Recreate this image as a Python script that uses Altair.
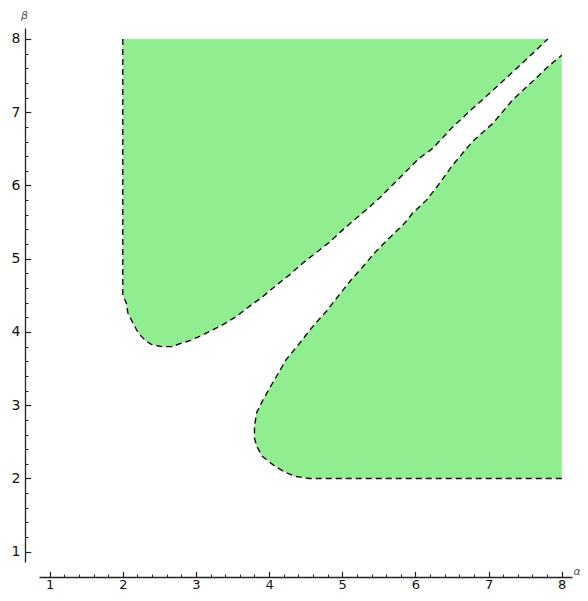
import altair as alt
import pandas as pd

# Upper-left region: lower boundary (alpha, beta); region extends up to beta = 8
r1_alpha = [2.0, 2.05, 2.07, 2.14, 2.21, 2.30, 2.39, 2.53, 2.68, 2.78, 2.91, 3.05, 3.19,
            3.37, 3.55, 3.73, 3.91, 4.10, 4.28, 4.46, 4.69, 4.83, 4.98, 5.14, 5.33, 5.51,
            5.71, 6.05, 6.24, 6.51, 6.78, 7.06, 7.33, 7.60, 7.81]
r1_beta = [4.51, 4.39, 4.26, 4.12, 3.99, 3.89, 3.83, 3.80, 3.80, 3.84, 3.88, 3.94, 4.01,
           4.10, 4.21, 4.35, 4.48, 4.64, 4.78, 4.94, 5.12, 5.23, 5.37, 5.51, 5.67, 5.83,
           6.03, 6.37, 6.51, 6.80, 7.05, 7.30, 7.55, 7.80, 8.0]
r1_top = 8.0

# Lower-right region: left boundary (alpha, beta); region extends right to alpha = 8
r2_beta = [2.0, 2.03, 2.10, 2.19, 2.30, 2.44, 2.55, 2.71, 2.90, 3.08, 3.29, 3.46, 3.62,
           3.85, 4.08, 4.28, 4.51, 4.71, 4.89, 5.10, 5.28, 5.46, 5.62, 5.80, 5.99, 6.28,
           6.60, 6.85, 7.17, 7.42, 7.62, 7.78]
r2_alpha = [4.55, 4.35, 4.19, 4.05, 3.91, 3.83, 3.80, 3.80, 3.83, 3.92, 4.04, 4.14, 4.23,
            4.42, 4.60, 4.78, 4.96, 5.12, 5.28, 5.46, 5.64, 5.83, 5.96, 6.15, 6.30, 6.51,
            6.78, 7.06, 7.33, 7.60, 7.81, 8.0]
r2_right = 8.0

major_ticks = [1, 2, 3, 4, 5, 6, 7, 8]
minor_ticks = [round(1 + 0.2 * i, 1) for i in range(36) if i % 5 != 0]

x_domain = [0.855, 8.14]
y_domain = [0.86, 8.15]

df1 = pd.DataFrame({"a": r1_alpha, "b": r1_beta, "top": [r1_top] * len(r1_alpha)})
df2 = pd.DataFrame({"a": r2_alpha, "b": r2_beta, "right": [r2_right] * len(r2_alpha)})

l1 = pd.DataFrame({"a": [2.0] + r1_alpha, "b": [r1_top] + r1_beta})
l1["o"] = range(len(l1))
l2 = pd.DataFrame({"a": [r2_right] + r2_alpha, "b": [2.0] + r2_beta})
l2["o"] = range(len(l2))

FONT = "DejaVu Sans"
GREEN = "#90ee90"
sx = alt.Scale(domain=x_domain, nice=False, zero=False)
sy = alt.Scale(domain=y_domain, nice=False, zero=False)

common = dict(grid=False)

ax_x_dom = alt.Axis(orient="bottom", offset=15, domain=True, domainColor="#222",
                    domainWidth=1.3, ticks=False, labels=False, title="α",
                    titleFont=FONT, titleFontStyle="italic", titleFontWeight="normal",
                    titleFontSize=11, titleColor="#555", titleAlign="left",
                    titleBaseline="middle", titleX=534, titleY=-6, titleAngle=0, **common)
ax_x_maj = alt.Axis(orient="bottom", offset=9.3, domain=False, values=major_ticks,
                    tickSize=5.7, tickColor="#222", tickWidth=1.2, labelFont=FONT,
                    labelFontSize=13, labelColor="#111", labelPadding=1.5, title=None,
                    format="d", **common)
ax_x_min = alt.Axis(orient="bottom", offset=12, domain=False, values=minor_ticks,
                    tickSize=3, tickColor="#222", tickWidth=1, labels=False, title=None,
                    **common)

ax_y_dom = alt.Axis(orient="left", offset=14, domain=True, domainColor="#222",
                    domainWidth=1.3, ticks=False, labels=False, title="β",
                    titleFont=FONT, titleFontStyle="italic", titleFontWeight="normal",
                    titleFontSize=11, titleColor="#555", titleAlign="center",
                    titleBaseline="top", titleX=-1, titleY=-19, titleAngle=0, **common)
ax_y_maj = alt.Axis(orient="left", offset=8.3, domain=False, values=major_ticks,
                    tickSize=5.7, tickColor="#222", tickWidth=1.2, labelFont=FONT,
                    labelFontSize=14, labelColor="#111", labelPadding=5, title=None,
                    format="d", **common)
ax_y_min = alt.Axis(orient="left", offset=11, domain=False, values=minor_ticks,
                    tickSize=3, tickColor="#222", tickWidth=1, labels=False, title=None,
                    **common)

area1 = alt.Chart(df1).mark_area(color=GREEN, opacity=1).encode(
    x=alt.X("a:Q", scale=sx, axis=ax_x_dom),
    y=alt.Y("b:Q", scale=sy, axis=ax_y_dom),
    y2="top:Q",
)
area2 = alt.Chart(df2).mark_area(color=GREEN, opacity=1, orient="horizontal").encode(
    x=alt.X("a:Q", scale=sx, axis=ax_x_maj),
    x2="right:Q",
    y=alt.Y("b:Q", scale=sy, axis=ax_y_maj),
)
dash = [6, 4]
line1 = alt.Chart(l1).mark_line(color="#111", strokeWidth=1.4, strokeDash=dash).encode(
    x=alt.X("a:Q", scale=sx, axis=ax_x_min),
    y=alt.Y("b:Q", scale=sy, axis=ax_y_min),
    order="o:Q",
)
line2 = alt.Chart(l2).mark_line(color="#111", strokeWidth=1.4, strokeDash=dash).encode(
    x=alt.X("a:Q", scale=sx, axis=None),
    y=alt.Y("b:Q", scale=sy, axis=None),
    order="o:Q",
)

chart = alt.layer(area1, area2, line1, line2).resolve_axis(
    x="independent", y="independent"
).properties(
    width=533, height=534,
    padding={"left": 31, "top": 20, "right": 8, "bottom": 31},
    autosize=alt.AutoSizeParams(type="none"),
).configure_view(stroke=None)

chart.save("out.html", embed_options={"renderer": "svg", "actions": False})
